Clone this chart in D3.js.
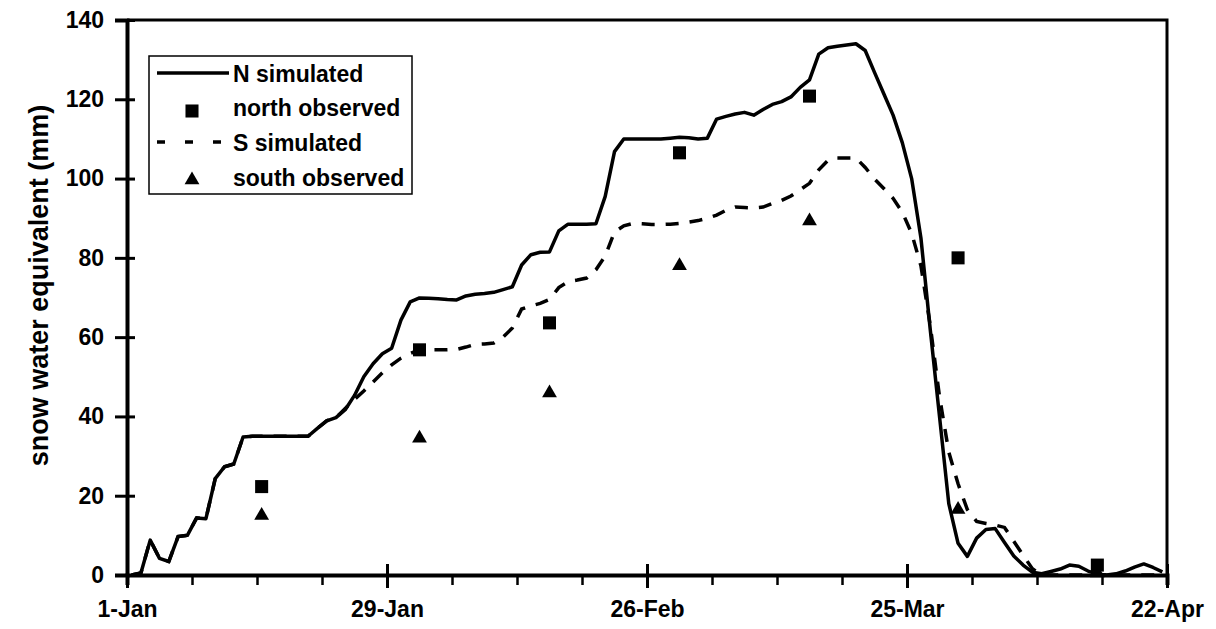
<!DOCTYPE html>
<meta charset="utf-8">
<script src="https://d3js.org/d3.v7.min.js"></script>
<style>
  body { margin: 0; background: #fff; }
  text { font-family: "Liberation Sans", Arial, Helvetica, sans-serif; font-weight: bold; fill: #000; }
</style>
<div id="chart"></div>
<script>

// daily simulated snow water equivalent (mm), day 0 = 1-Jan
var nSimulated = [0,0.5,8.8,4.2,3.4,9.7,10,14.4,14.2,24.3,
  27.3,28,34.8,35,35,35,35,35,35,35,
  37,38.9,39.7,41.7,45.3,50,53.3,55.8,57.2,64.3,
  68.9,69.9,69.8,69.7,69.5,69.4,70.4,70.8,71,71.3,
  72,72.7,78.2,80.8,81.4,81.5,86.8,88.5,88.5,88.5,
  88.6,95.5,106.8,110,110,110,110,110,110.2,110.4,
  110.3,110,110.2,115,115.7,116.3,116.7,116,117.4,118.7,
  119.4,120.6,123,124.9,131.4,133,133.4,133.7,134,132.3,
  126.8,121.4,116,109,100,85,62,40,18,8,
  4.7,9.3,11.5,11.7,8.2,4.8,2.5,0.7,0.3,0.9,
  1.5,2.5,2.2,1,0.2,0,0.3,1,2,2.8,
  1.9,0.8];

var sSimulated = [0,0.5,8.8,4.2,3.4,9.7,10,14.4,14.2,24.3,
  27.3,28,34.8,35,35,35,35,35,35,35,
  37,38.9,39.7,42,44.3,46.4,48.7,51,53,54.7,
  55.9,56.8,56.8,56.8,56.8,56.9,57.5,58.2,58.3,58.5,
  60,62.3,67.1,67.9,68.5,69.5,72.5,74,74.4,74.9,
  77,80.5,86.5,88.1,88.7,88.6,88.4,88.4,88.5,88.7,
  89,89.4,90,90.8,92,92.8,92.7,92.6,92.8,93.7,
  94.5,95.6,97.2,98.8,102.2,104.6,105.2,105.2,105.2,102.8,
  99.9,97.5,95,91.5,86.2,78,63,45,31,23,
  16.5,13.5,13,12.6,12,8.5,5,1.6,0,0,
  0,0,0,0,0,0,0,0,0,0,
  0,0];

// field observations
var obsDays = [14,31,45,59,73,89,104];
var northObserved = [22.3,56.8,63.6,106.5,120.8,80,2.5];
var southObserved = [15,34.5,45.9,78,89.3,16.5,0.5];

// axis labels
var dateTickDays = [0,28,56,84,112];
var dateTickLabels = ["1-Jan","29-Jan","26-Feb","25-Mar","22-Apr"];
var seriesNames = ["N simulated","north observed","S simulated","south observed"];

var width = 1216, height = 629;
var plotLeft = 127, plotRight = 1167, plotTop = 20, plotBottom = 575;

var svg = d3.select("#chart")
  .append("svg")
    .attr("width", width)
    .attr("height", height);

var x = d3.scaleLinear().domain([0, 112]).range([plotLeft, plotRight]);
var y = d3.scaleLinear().domain([0, 140]).range([plotBottom, plotTop]);

// points sit in the middle of each day slot
function px(i) { return x(i + 0.5); }

// frame (top and right)
svg.append("path")
  .attr("d", "M" + plotLeft + "," + plotTop + "H" + plotRight + "V" + plotBottom)
  .attr("fill", "none")
  .attr("stroke", "#000")
  .attr("stroke-width", 3);

// y axis
var yAxis = svg.append("g")
  .attr("transform", "translate(" + plotLeft + ",0)")
  .call(d3.axisLeft(y).tickValues(d3.range(0, 141, 20)).tickSize(12).tickPadding(11));
yAxis.select(".domain").attr("stroke-width", 4);
yAxis.selectAll(".tick line").attr("x2", 8).attr("x1", -12).attr("stroke-width", 3);
yAxis.selectAll(".tick text").style("font-size", "23px");

// x axis minor ticks every 7 days
var xMinor = svg.append("g")
  .attr("transform", "translate(0," + plotBottom + ")")
  .call(d3.axisBottom(x).tickValues(d3.range(0, 113, 7)).tickSize(10).tickFormat(""));
xMinor.select(".domain").attr("stroke-width", 4);
xMinor.selectAll(".tick line").attr("stroke-width", 2.5);

// x axis major ticks with labels
var xMajor = svg.append("g")
  .attr("transform", "translate(0," + plotBottom + ")")
  .call(d3.axisBottom(x).tickValues(dateTickDays).tickSize(12).tickPadding(14)
    .tickFormat(function(d, i) { return dateTickLabels[i]; }));
xMajor.select(".domain").remove();
xMajor.selectAll(".tick line").attr("y1", -11).attr("y2", 13).attr("stroke-width", 3);
xMajor.selectAll(".tick text").style("font-size", "23px");

// y axis title
svg.append("text")
  .attr("transform", "translate(48," + ((plotTop + plotBottom) / 2 - 12) + ") rotate(-90)")
  .attr("text-anchor", "middle")
  .style("font-size", "27px")
  .text("snow water equivalent (mm)");

var line = d3.line()
  .x(function(d, i) { return px(i); })
  .y(function(d) { return y(d); });

// simulated series
svg.append("path")
  .datum(sSimulated)
  .attr("d", line)
  .attr("fill", "none")
  .attr("stroke", "#000")
  .attr("stroke-width", 3.5)
  .attr("stroke-dasharray", "13,11");

svg.append("path")
  .datum(nSimulated)
  .attr("d", line)
  .attr("fill", "none")
  .attr("stroke", "#000")
  .attr("stroke-width", 3.5)
  .attr("stroke-linejoin", "round");

var square = d3.symbol().type(d3.symbolSquare).size(170);
var triangle = d3.symbol().type(d3.symbolTriangle).size(95);

// observed markers
svg.append("g")
  .selectAll("path")
  .data(northObserved)
  .enter()
  .append("path")
    .attr("d", square)
    .attr("transform", function(d, i) { return "translate(" + px(obsDays[i]) + "," + y(d) + ")"; });

svg.append("g")
  .selectAll("path")
  .data(southObserved)
  .enter()
  .append("path")
    .attr("d", triangle)
    .attr("transform", function(d, i) { return "translate(" + px(obsDays[i]) + "," + y(d) + ")"; });

// legend
var legend = svg.append("g");
legend.append("rect")
  .attr("x", 149).attr("y", 56)
  .attr("width", 263).attr("height", 138)
  .attr("fill", "#fff")
  .attr("stroke", "#000")
  .attr("stroke-width", 1.5);

var rowY = [73, 107, 142, 177];
legend.append("line")
  .attr("x1", 157).attr("x2", 229).attr("y1", rowY[0]).attr("y2", rowY[0])
  .attr("stroke", "#000").attr("stroke-width", 3.5);
legend.append("path")
  .attr("d", square)
  .attr("transform", "translate(192," + (rowY[1] + 4) + ")");
legend.append("line")
  .attr("x1", 157).attr("x2", 229).attr("y1", rowY[2]).attr("y2", rowY[2])
  .attr("stroke", "#000").attr("stroke-width", 3.5)
  .attr("stroke-dasharray", "8,20");
legend.append("path")
  .attr("d", triangle)
  .attr("transform", "translate(192," + (rowY[3] + 3) + ")");

legend.selectAll("text")
  .data(seriesNames)
  .enter()
  .append("text")
    .attr("x", 233)
    .attr("y", function(d, i) { return rowY[i] + 9; })
    .style("font-size", "23px")
    .text(function(d) { return d; });

</script>
